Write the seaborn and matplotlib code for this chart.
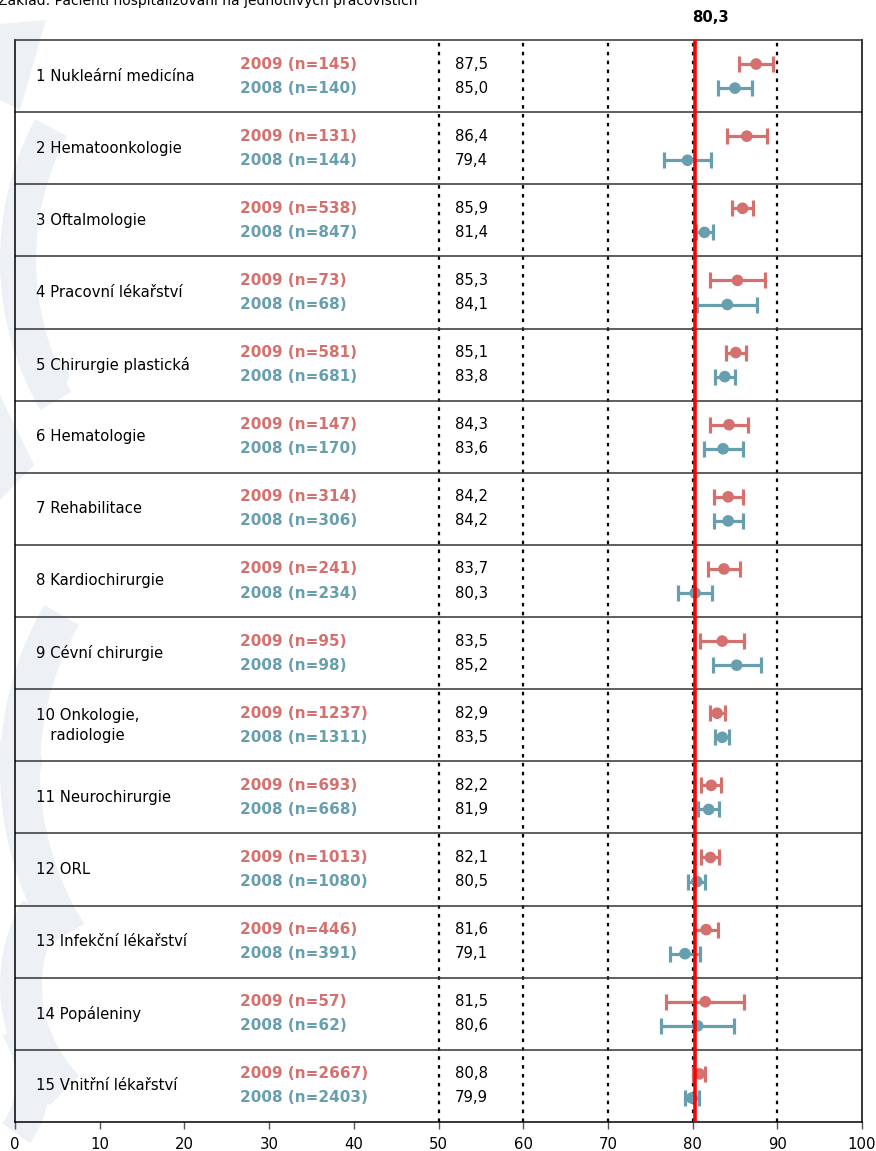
import numpy as np
import pandas as pd
import seaborn as sns
import matplotlib.pyplot as plt
from matplotlib.patches import Wedge, Circle, Polygon
from matplotlib.transforms import IdentityTransform

# Departments, sample sizes, mean satisfaction scores and 95% CI half-widths
categories = [
    "1 Nukleární medicína", "2 Hematoonkologie", "3 Oftalmologie",
    "4 Pracovní lékařství", "5 Chirurgie plastická", "6 Hematologie",
    "7 Rehabilitace", "8 Kardiochirurgie", "9 Cévní chirurgie",
    "10 Onkologie,\n   radiologie", "11 Neurochirurgie", "12 ORL",
    "13 Infekční lékařství", "14 Popáleniny", "15 Vnitřní lékařství",
]
n_2009 = [145, 131, 538, 73, 581, 147, 314, 241, 95, 1237, 693, 1013, 446, 57, 2667]
n_2008 = [140, 144, 847, 68, 681, 170, 306, 234, 98, 1311, 668, 1080, 391, 62, 2403]
score_2009 = [87.5, 86.4, 85.9, 85.3, 85.1, 84.3, 84.2, 83.7, 83.5, 82.9, 82.2, 82.1, 81.6, 81.5, 80.8]
score_2008 = [85.0, 79.4, 81.4, 84.1, 83.8, 83.6, 84.2, 80.3, 85.2, 83.5, 81.9, 80.5, 79.1, 80.6, 79.9]
ci_2009 = [2.0, 2.35, 1.2, 3.3, 1.2, 2.2, 1.7, 1.9, 2.6, 0.9, 1.2, 1.05, 1.4, 4.6, 0.7]
ci_2008 = [2.0, 2.8, 1.05, 3.55, 1.15, 2.3, 1.7, 2.0, 2.85, 0.85, 1.25, 1.0, 1.8, 4.3, 0.8]
overall = 80.3
x_ticks = [0, 10, 20, 30, 40, 50, 60, 70, 80, 90, 100]
subtitle = "Základ: Pacienti hospitalizovaní na jednotlivých pracovištích"

C09 = "#D4716E"
C08 = "#689FAE"
FS = 10.7

sns.set_theme(style="white")
plt.rcParams["font.family"] = ["DejaVu Sans"]

W, H = 876, 1151
fig = plt.figure(figsize=(W / 100, H / 100), dpi=100)
fig.patch.set_facecolor("white")

# faint logo watermark on the left edge (pixel coordinates, y measured from top)
wm = "#EDF1F5"
def P(x, y):
    return (x, H - y)

shapes = [
    Polygon([P(0, 24), P(46, 20), P(20, 110), P(0, 100)], closed=True),
    Wedge(P(300, 260), 300, 152, 210, width=36),
    Circle(P(52, 374), 17),
    Polygon([P(0, 395), P(34, 465), P(0, 500)], closed=True),
    Wedge(P(330, 770), 330, 150, 212, width=40),
    Circle(P(16, 762), 26),
    Wedge(P(170, 985), 170, 150, 225, width=42),
    Wedge(P(-60, 1080), 110, -35, 35, width=34),
]
for s in shapes:
    s.set_transform(IdentityTransform())
    s.set_facecolor(wm)
    s.set_edgecolor("none")
    s.set_zorder(0)
    fig.add_artist(s)

ax = fig.add_axes([15 / W, 1 - 1122 / H, (862 - 15) / W, (1122 - 40) / H])
ax.set_facecolor("none")

# long-format table for plotting
n_rows = len(categories)
rows = np.arange(n_rows)
df = pd.DataFrame({
    "row": np.concatenate([rows, rows]),
    "ypos": np.concatenate([rows - 0.167, rows + 0.167]),
    "score": score_2009 + score_2008,
    "ci": ci_2009 + ci_2008,
    "year": ["2009"] * n_rows + ["2008"] * n_rows,
})

# dotted reference grid
for xv in [50, 60, 70, 80, 90]:
    ax.axvline(xv, color="black", lw=1.6, linestyle=(0, (1.6, 2.4)), zorder=1)

# row separators
for r in range(n_rows - 1):
    ax.axhline(r + 0.5, color="#333333", lw=1.1, zorder=1)

# confidence intervals
for yr, col in [("2009", C09), ("2008", C08)]:
    d = df[df["year"] == yr]
    ax.errorbar(d["score"], d["ypos"], xerr=d["ci"], fmt="none", ecolor=col,
                elinewidth=2.3, capsize=5.5, capthick=2.3, zorder=3)

sns.scatterplot(data=df, x="score", y="ypos", hue="year",
                palette={"2009": C09, "2008": C08}, s=70, edgecolor="none",
                legend=False, ax=ax, zorder=4)

# overall mean
ax.axvline(overall, color="#FF0000", lw=2.6, zorder=6)
ax.annotate(f"{overall:.1f}".replace(".", ","), xy=(overall, 1),
            xycoords=("data", "axes fraction"), xytext=(15, 22),
            textcoords="offset pixels", ha="center", va="center",
            fontsize=FS, fontweight="bold", color="black", annotation_clip=False)

# labels inside the rows
for i in range(n_rows):
    ax.text(2.5, i, categories[i], ha="left", va="center", fontsize=FS,
            color="black", linespacing=1.4, zorder=5)
    ax.text(26.6, i - 0.167, f"2009 (n={n_2009[i]})", ha="left", va="center",
            fontsize=11, fontweight="bold", color=C09, zorder=5)
    ax.text(26.6, i + 0.167, f"2008 (n={n_2008[i]})", ha="left", va="center",
            fontsize=11, fontweight="bold", color=C08, zorder=5)
    ax.text(51.9, i - 0.167, f"{score_2009[i]:.1f}".replace(".", ","), ha="left",
            va="center", fontsize=FS, color="black", zorder=5)
    ax.text(51.9, i + 0.167, f"{score_2008[i]:.1f}".replace(".", ","), ha="left",
            va="center", fontsize=FS, color="black", zorder=5)

ax.set_xlim(0, 100)
ax.set_ylim(n_rows - 0.5, -0.5)
ax.set_xticks(x_ticks)
ax.set_xticklabels([str(t) for t in x_ticks], fontsize=FS, color="black")
ax.set_yticks([])
ax.set_xlabel("")
ax.set_ylabel("")
ax.tick_params(axis="x", direction="out", length=5, width=1, color="#555555",
               pad=6, bottom=True)
for sp in ax.spines.values():
    sp.set_visible(True)
    sp.set_color("black")
    sp.set_linewidth(1.1)
ax.spines["top"].set_color("#333333")

fig.text(-2 / W, 1 - 5 / H, subtitle, ha="left", va="baseline", fontsize=10, color="black")

fig.savefig("out.png", dpi=100)
